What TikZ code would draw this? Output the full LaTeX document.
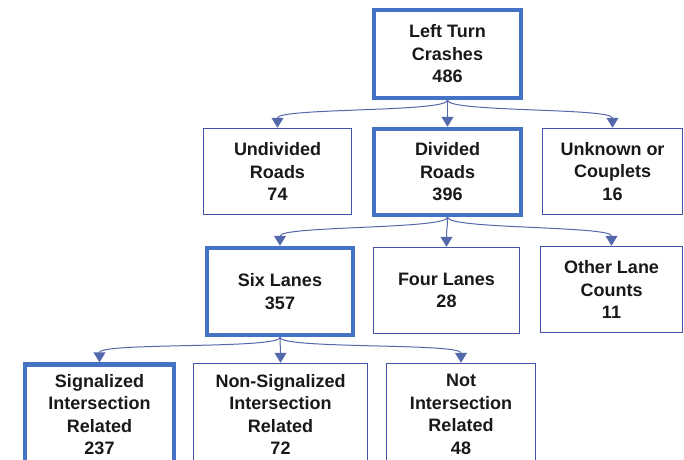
\documentclass[tikz,border=0pt]{standalone}
\usepackage{fontspec}
\setmainfont{Liberation Sans}
\usetikzlibrary{arrows.meta,calc}
\definecolor{thickblue}{RGB}{68,114,196}
\definecolor{thinblue}{RGB}{66,82,170}
\definecolor{linkblue}{RGB}{84,104,172}
\tikzset{
  box/.style={draw=thinblue, line width=1.5pt, fill=white, align=center,
    font=\bfseries\fontsize{18}{22.5}\selectfont, inner sep=0pt, text=black!90},
  boldbox/.style={box, draw=thickblue, line width=4.5pt},
  link/.style={draw=linkblue, line width=1pt, -{Triangle[width=12pt,length=10pt]}}
}
\newcommand{\linkto}[2]{\draw[link] (#1.south) .. controls ($(#1.south)+(0,12)$) and ($(#2.north)+(0,-20)$) .. (#2.north);}
\begin{document}
\begin{tikzpicture}[x=1pt,y=-1pt]
\useasboundingbox (0,0) rectangle (684,459);
\clip (0,0) rectangle (684,459);
\fill[white] (0,0) rectangle (684,459);
% row 0
\node[boldbox, minimum width=147, minimum height=88] (top) at (447.5,54) {Left Turn\\Crashes\\486};
% row 1
\node[box, minimum width=148, minimum height=86] (und) at (277.5,171.5) {Undivided\\Roads\\74};
\node[boldbox, minimum width=147, minimum height=86] (div) at (447.5,172) {Divided\\Roads\\396};
\node[box, minimum width=140, minimum height=86] (unk) at (612.5,171.5) {Unknown or\\Couplets\\16};
% row 2
\node[boldbox, minimum width=146, minimum height=87] (six) at (280,291.5) {Six Lanes\\357};
\node[box, minimum width=146, minimum height=86] (four) at (446.5,290.5) {Four Lanes\\28};
\node[box, minimum width=142, minimum height=86] (oth) at (611.5,289.5) {Other Lane\\Counts\\11};
% row 3
\node[boldbox, minimum width=149, minimum height=100] (sig) at (99.5,414.5) {Signalized\\Intersection\\Related\\237};
\node[box, minimum width=174, minimum height=102] (nsig) at (280.5,414.5) {Non-Signalized\\Intersection\\Related\\72};
\node[box, minimum width=149, minimum height=102] (nint) at (461,414.5) {Not\\Intersection\\Related\\48};
% connectors
\linkto{top}{und}
\linkto{top}{div}
\linkto{top}{unk}
\linkto{div}{six}
\linkto{div}{four}
\linkto{div}{oth}
\linkto{six}{sig}
\linkto{six}{nsig}
\linkto{six}{nint}
\end{tikzpicture}
\end{document}
